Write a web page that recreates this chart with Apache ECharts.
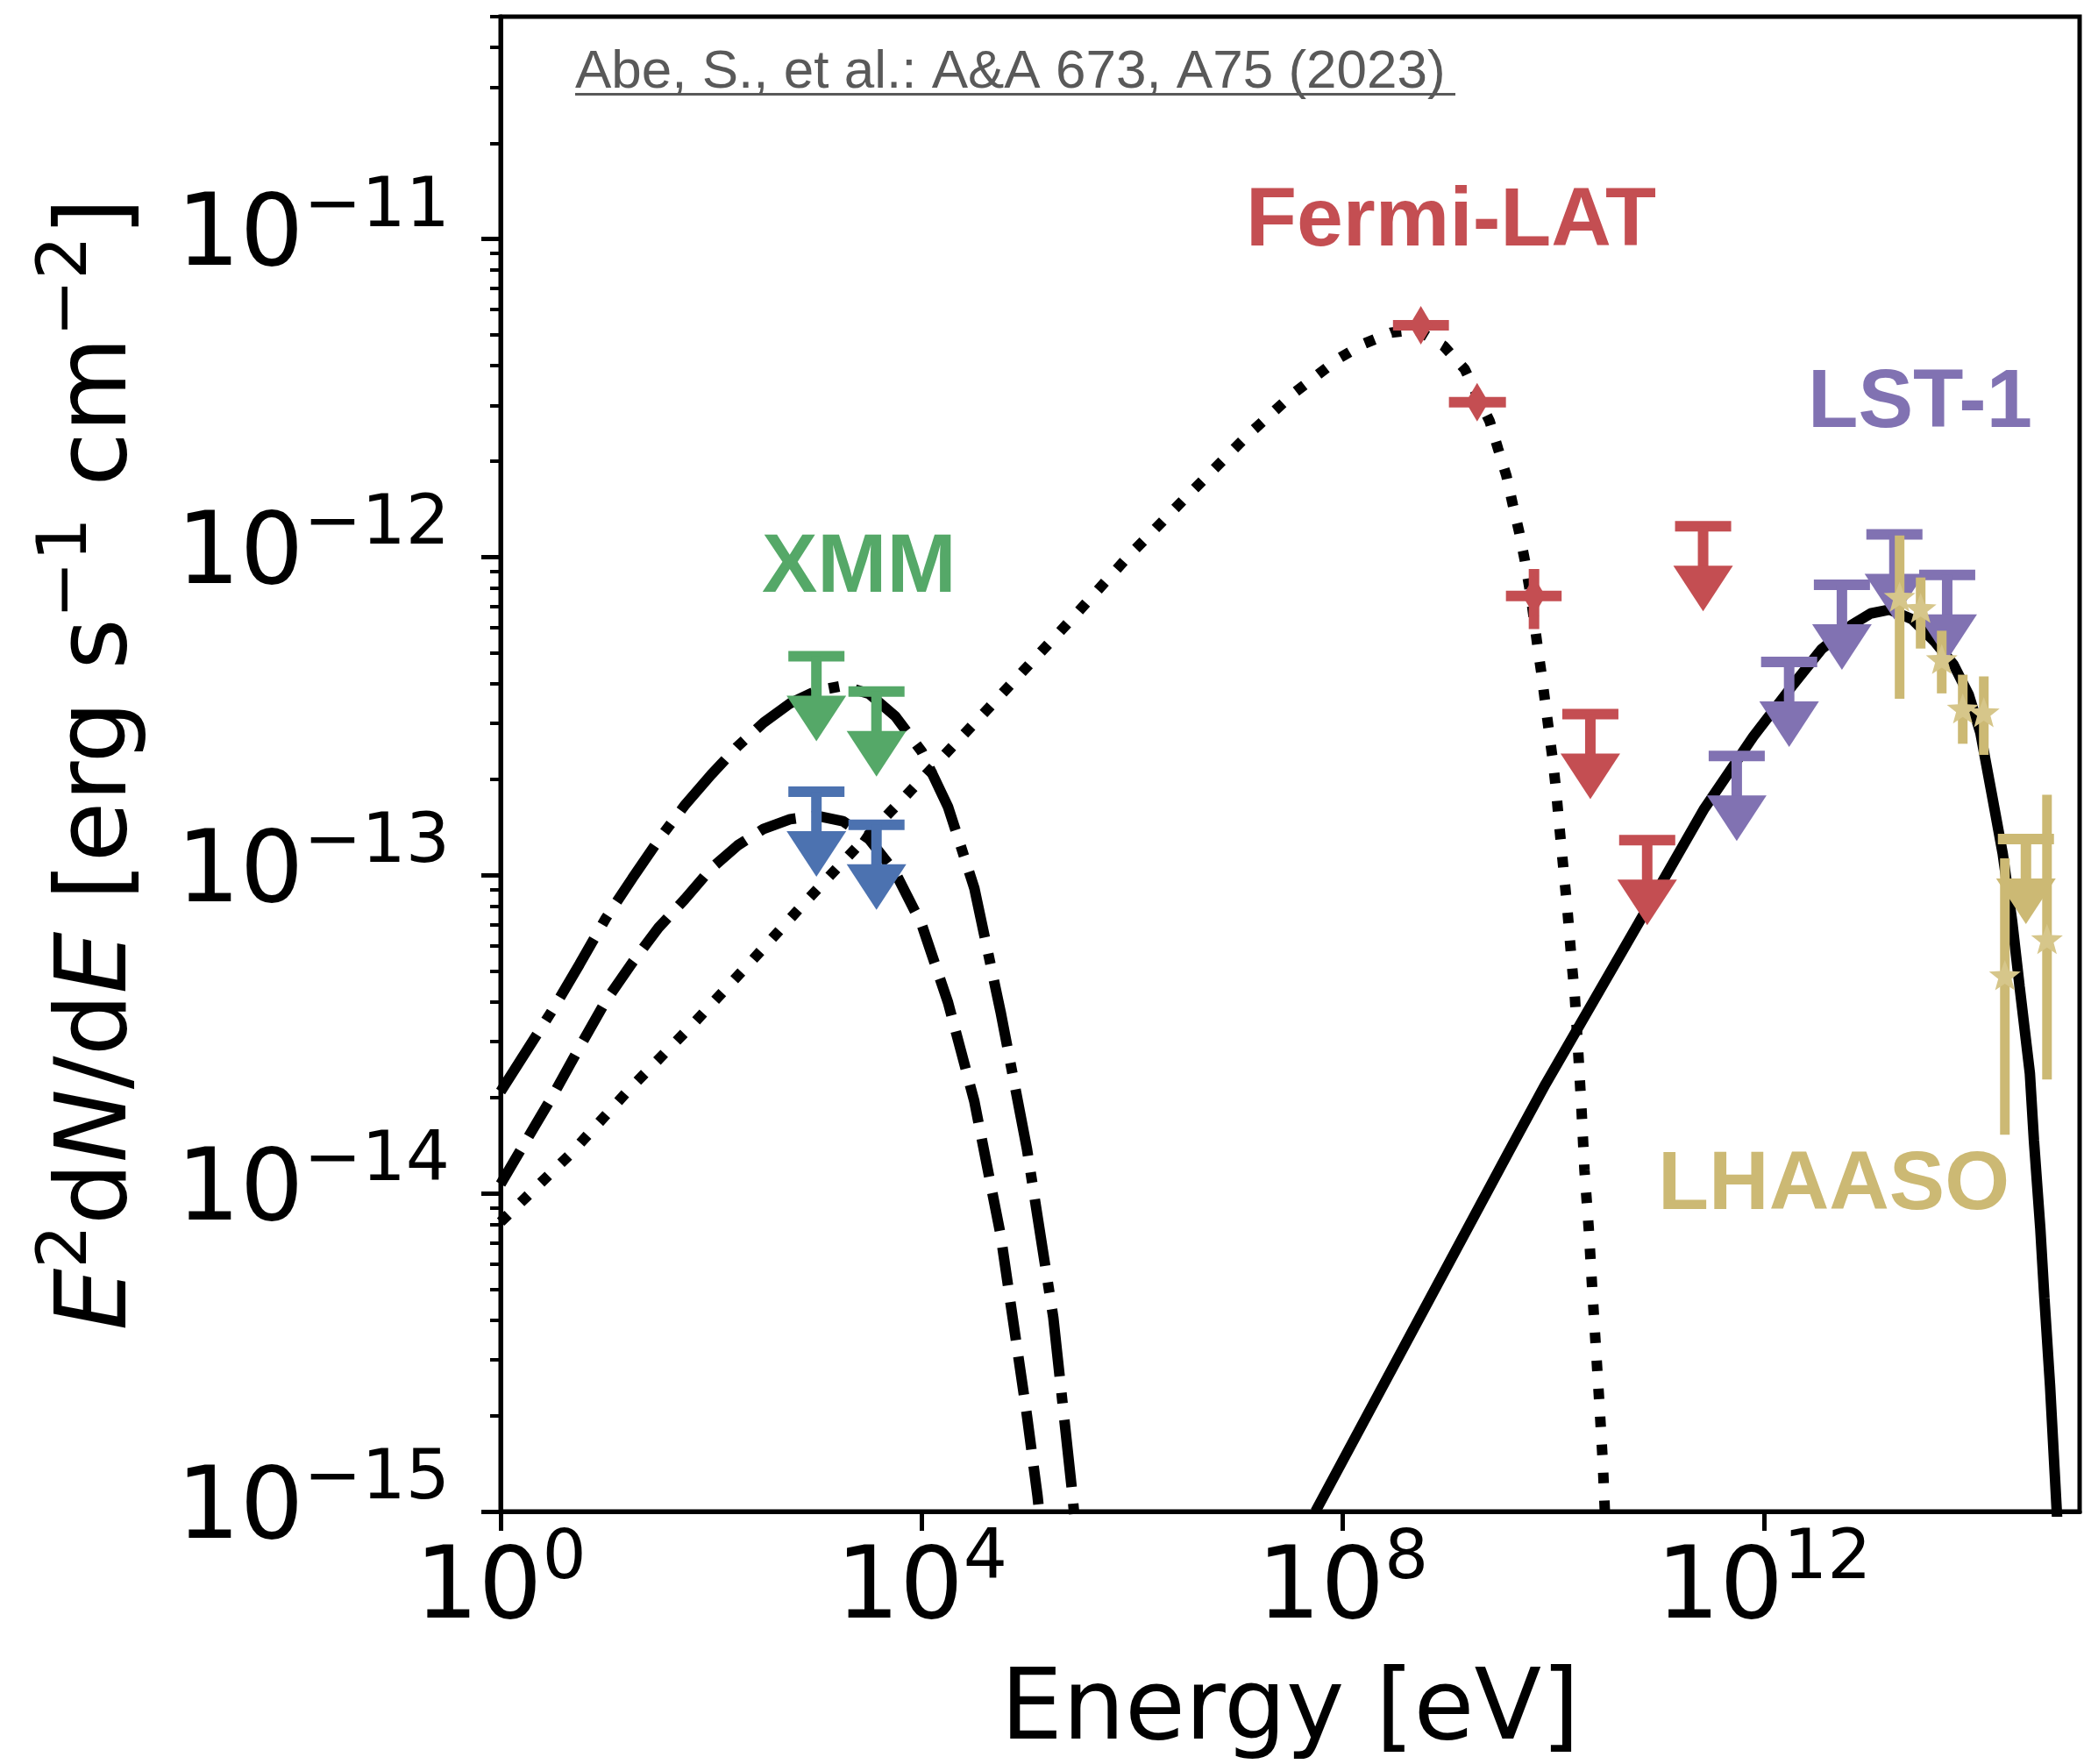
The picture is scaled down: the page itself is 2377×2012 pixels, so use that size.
<!DOCTYPE html>
<html>
<head>
<meta charset="utf-8">
<script src="https://cdn.jsdelivr.net/npm/echarts@6/dist/echarts.min.js"></script>
<style>
  html, body { margin: 0; padding: 0; background: #fff; }
  #sed { width: 2377px; height: 2012px; }
</style>
</head>
<body>
<div id="sed"></div>
<script>
// model curves (E in eV, E^2 dN/dE in erg s^-1 cm^-2)
const syncHighE = [1, 1.78, 3.16, 5.62, 10, 17.8, 31.6, 56.2, 100, 178, 316, 562, 1e3, 1.78e3, 3.16e3, 5.62e3, 1e4, 1.78e4, 3.16e4, 5.62e4, 1e5, 1.78e5, 2.69e5, 2.88e5]
const syncHighF = [2.09e-14, 2.82e-14, 3.80e-14, 5.25e-14, 7.33e-14, 9.77e-14, 1.29e-13, 1.66e-13, 2.07e-13, 2.54e-13, 3.02e-13, 3.47e-13, 3.80e-13, 3.94e-13, 3.72e-13, 3.16e-13, 2.45e-13, 1.64e-13, 9.12e-14, 3.72e-14, 1.38e-14, 4.07e-15, 1.15e-15, 9.0e-16]

const syncLowE = [1, 1.78, 3.16, 5.62, 10, 17.8, 31.6, 56.2, 100, 178, 316, 562, 1e3, 1.78e3, 3.16e3, 5.62e3, 1e4, 1.78e4, 3.16e4, 5.62e4, 1e5, 1.26e5, 1.35e5]
const syncLowF = [1.07e-14, 1.48e-14, 2.04e-14, 2.88e-14, 4.03e-14, 5.31e-14, 6.84e-14, 8.41e-14, 1.05e-13, 1.24e-13, 1.40e-13, 1.50e-13, 1.54e-13, 1.48e-13, 1.30e-13, 1.02e-13, 7.00e-14, 3.98e-14, 1.95e-14, 7.41e-15, 2.00e-15, 1.12e-15, 9.0e-16]

const icE = [1, 4.61, 16.6, 65.3, 234, 847, 3.05e3, 1.19e4, 4.31e4, 2.49e5, 9.04e5, 3.42e6, 1.29e7, 3.53e7, 9.23e7, 1.60e8, 2.90e8, 5.01e8, 9.10e8, 1.44e9, 2.49e9, 2.99e9, 3.59e9, 4.13e9, 4.74e9, 5.37e9, 6.17e9, 7.08e9, 7.78e9, 8.47e9, 9.18e9, 9.98e9, 1.07e10, 1.13e10, 1.20e10, 1.28e10, 1.36e10, 1.43e10, 1.51e10, 1.60e10, 1.73e10, 1.86e10, 1.98e10, 2.17e10, 2.34e10, 2.53e10, 2.74e10, 2.95e10, 3.09e10, 3.2e10]
const icF = [8.13e-15, 1.33e-14, 2.12e-14, 3.37e-14, 5.31e-14, 8.47e-14, 1.33e-13, 2.13e-13, 3.35e-13, 6.24e-13, 1.0e-12, 1.57e-12, 2.44e-12, 3.30e-12, 4.22e-12, 4.69e-12, 5.08e-12, 5.19e-12, 4.61e-12, 3.90e-12, 2.67e-12, 2.19e-12, 1.80e-12, 1.46e-12, 1.20e-12, 9.75e-13, 7.41e-13, 5.25e-13, 4.23e-13, 3.40e-13, 2.77e-13, 2.25e-13, 1.81e-13, 1.48e-13, 1.20e-13, 9.64e-14, 7.85e-14, 6.40e-14, 5.14e-14, 4.19e-14, 2.74e-14, 1.80e-14, 1.18e-14, 7.78e-15, 5.06e-15, 3.33e-15, 2.19e-15, 1.44e-15, 1.0e-15, 8.5e-16]

const hadE = [5.50e7, 3.77e9, 8.47e9, 6.40e10, 2.72e11, 7.94e11, 1.82e12, 3.52e12, 6.82e12, 1.03e13, 1.56e13, 2.56e13, 4.21e13, 6.35e13, 8.85e13, 1.14e14, 1.46e14, 1.86e14, 2.29e14, 2.69e14, 3.37e14, 3.68e14, 4.23e14, 4.63e14, 5.24e14, 6.05e14, 6.17e14]
const hadF = [1.0e-15, 1.35e-14, 2.21e-14, 7.03e-14, 1.62e-13, 2.73e-13, 3.90e-13, 5.13e-13, 6.12e-13, 6.65e-13, 6.84e-13, 6.38e-13, 5.42e-13, 4.59e-13, 3.69e-13, 2.81e-13, 1.81e-13, 1.17e-13, 7.13e-14, 4.47e-14, 2.38e-14, 1.47e-14, 7.78e-15, 4.68e-15, 2.48e-15, 1.02e-15, 9.0e-16]

// XMM upper limits (two models)
const xmmE = [1.0e3, 3.72e3]
const xmmHighUL = [4.88e-13, 3.78e-13]
const xmmLowUL = [1.83e-13, 1.44e-13]

// Fermi-LAT
const fermiE = [5.52e8, 1.89e9, 6.56e9]
const fermiELo = [3.0e8, 1.02e9, 3.55e9]
const fermiEHi = [1.02e9, 3.55e9, 1.20e10]
const fermiF = [5.36e-12, 3.07e-12, 7.55e-13]
const fermiFLo = [5.36e-12, 3.07e-12, 5.94e-13]
const fermiFHi = [5.36e-12, 3.07e-12, 9.18e-13]
const fermiUlE = [2.25e10, 7.80e10, 2.65e11]
const fermiUlF = [3.21e-13, 1.29e-13, 1.25e-12]

// LST-1 upper limits
const lstE = [5.53e11, 1.74e12, 5.52e12, 1.74e13, 5.52e13]
const lstUlF = [2.37e-13, 4.68e-13, 8.18e-13, 1.18e-12, 8.79e-13]

// LHAASO
const lhaasoE = [1.95e13, 3.09e13, 4.90e13, 7.76e13, 1.23e14, 1.95e14, 4.90e14]
const lhaasoF = [7.52e-13, 6.93e-13, 4.79e-13, 3.35e-13, 3.26e-13, 4.86e-14, 6.31e-14]
const lhaasoFLo = [3.59e-13, 5.16e-13, 3.73e-13, 2.59e-13, 2.39e-13, 1.53e-14, 2.28e-14]
const lhaasoFHi = [1.17e-12, 8.63e-13, 5.87e-13, 4.27e-13, 4.22e-13, 1.13e-13, 1.79e-13]
const lhaasoUlE = [3.09e14]
const lhaasoUlF = [1.30e-13]

const xTicks = [1, 1e4, 1e8, 1e12]
const yTicks = [1e-15, 1e-14, 1e-13, 1e-12, 1e-11]
const yMinorTicks = [
  2e-15, 3e-15, 4e-15, 5e-15, 6e-15, 7e-15, 8e-15, 9e-15,
  2e-14, 3e-14, 4e-14, 5e-14, 6e-14, 7e-14, 8e-14, 9e-14,
  2e-13, 3e-13, 4e-13, 5e-13, 6e-13, 7e-13, 8e-13, 9e-13,
  2e-12, 3e-12, 4e-12, 5e-12, 6e-12, 7e-12, 8e-12, 9e-12,
  2e-11, 3e-11, 4e-11, 5e-11
]

const GREEN = '#55A868'
const BLUE = '#4C72B0'
const RED = '#C44E52'
const PURPLE = '#8172B2'
const TAN = '#CCB974'

const pairs = (xs, ys) => xs.map((x, i) => [x, ys[i]])

const tickRich = {
  b: { fontFamily: 'DejaVu Sans', fontSize: 114, lineHeight: 150, color: '#000' },
  s: { fontFamily: 'DejaVu Sans', fontSize: 79, lineHeight: 88, verticalAlign: 'top', color: '#000' }
}

// upper limit: cap at the value, stem, then a downward triangle
const ulRenderer = (color) => (params, api) => {
  const p = api.coord([api.value(0), api.value(1)])
  return {
    type: 'group',
    children: [
      { type: 'rect', shape: { x: p[0] - 32, y: p[1] - 6, width: 64, height: 12 }, style: { fill: color } },
      { type: 'rect', shape: { x: p[0] - 6, y: p[1], width: 12, height: 47 }, style: { fill: color } },
      { type: 'polygon', shape: { points: [[p[0] - 34, p[1] + 45], [p[0] + 34, p[1] + 45], [p[0], p[1] + 97]] }, style: { fill: color } }
    ]
  }
}

const fermiRenderer = (params, api) => {
  const c = api.coord([api.value(0), api.value(1)])
  const lo = api.coord([api.value(2), api.value(1)])
  const hi = api.coord([api.value(3), api.value(1)])
  const ylo = api.coord([api.value(0), api.value(4)])
  const yhi = api.coord([api.value(0), api.value(5)])
  return {
    type: 'group',
    children: [
      { type: 'rect', shape: { x: lo[0], y: c[1] - 6, width: hi[0] - lo[0], height: 12 }, style: { fill: RED } },
      { type: 'rect', shape: { x: c[0] - 6, y: yhi[1], width: 12, height: ylo[1] - yhi[1] }, style: { fill: RED } },
      { type: 'polygon', shape: { points: [[c[0], c[1] - 22], [c[0] + 13, c[1]], [c[0], c[1] + 22], [c[0] - 13, c[1]]] }, style: { fill: RED } }
    ]
  }
}

const starPoints = (cx, cy, r) => {
  const pts = []
  for (let k = 0; k < 10; k++) {
    const a = -Math.PI / 2 + k * Math.PI / 5
    const rr = k % 2 === 0 ? r : r * 0.42
    pts.push([cx + rr * Math.cos(a), cy + rr * Math.sin(a)])
  }
  return pts
}

const lhaasoRenderer = (params, api) => {
  const c = api.coord([api.value(0), api.value(1)])
  const ylo = api.coord([api.value(0), api.value(2)])
  const yhi = api.coord([api.value(0), api.value(3)])
  return {
    type: 'group',
    children: [
      { type: 'rect', shape: { x: c[0] - 5.5, y: yhi[1], width: 11, height: ylo[1] - yhi[1] }, style: { fill: TAN } },
      { type: 'polygon', shape: { points: starPoints(c[0], c[1] + 2, 19) }, style: { fill: '#D6C68A' } }
    ]
  }
}

const chart = echarts.init(document.getElementById('sed'))

const option = {
  animation: false,
  backgroundColor: '#fff',
  grid: {
    left: 571, top: 19, width: 1801, height: 1705,
    show: true, borderColor: '#000', borderWidth: 5,
    containLabel: false, outerBoundsMode: 'none'
  },
  xAxis: {
    type: 'log', logBase: 10, min: 1, max: 1e15,
    axisLine: { lineStyle: { color: '#000', width: 5 } },
    axisTick: { customValues: xTicks, length: 22, lineStyle: { color: '#000', width: 5 } },
    axisLabel: {
      customValues: xTicks, margin: 16, rich: tickRich,
      formatter: (v) => '{b|10}{s|' + Math.round(Math.log10(v)) + '}'
    },
    splitLine: { show: false },
    name: 'Energy [eV]', nameLocation: 'middle', nameGap: 174,
    nameTextStyle: { fontFamily: 'DejaVu Sans', fontSize: 112, lineHeight: 112, color: '#000' }
  },
  yAxis: [
    {
      type: 'log', logBase: 10, min: 1e-15, max: 5e-11, position: 'left',
      axisLine: { lineStyle: { color: '#000', width: 5 } },
      axisTick: { customValues: yTicks, length: 22, lineStyle: { color: '#000', width: 5 } },
      axisLabel: {
        customValues: yTicks, margin: 58, rich: tickRich,
        formatter: (v) => '{b|10}{s|\u2212' + Math.abs(Math.round(Math.log10(v))) + '}'
      },
      splitLine: { show: false },
      name: '{i|E}{s|2}{n|d}{i|N}{n|/d}{i|E}{n| [erg s}{s|\u22121}{n| cm}{s|\u22122}{n|]}',
      nameLocation: 'middle', nameRotate: 90, nameGap: 382,
      nameTextStyle: {
        rich: {
          n: { fontFamily: 'DejaVu Sans', fontSize: 112, lineHeight: 150, color: '#000' },
          i: { fontFamily: 'DejaVu Sans', fontStyle: 'italic', fontSize: 112, lineHeight: 150, color: '#000' },
          s: { fontFamily: 'DejaVu Sans', fontSize: 78, lineHeight: 88, verticalAlign: 'top', color: '#000' }
        }
      }
    },
    {
      // minor ticks at 2..9 x 10^n
      type: 'log', logBase: 10, min: 1e-15, max: 5e-11, position: 'left',
      axisLine: { show: false },
      axisTick: { customValues: yMinorTicks, length: 12, lineStyle: { color: '#000', width: 4 } },
      axisLabel: { show: false },
      splitLine: { show: false }
    }
  ],
  graphic: [
    { type: 'text', left: 656, top: 52, style: { text: 'Abe, S., et al.: A&A 673, A75 (2023)', font: '62px "Liberation Sans", Arial, sans-serif', fill: '#595959' } },
    { type: 'rect', shape: { x: 656, y: 106, width: 1004, height: 3 }, style: { fill: '#595959' } },
    { type: 'text', left: 1421, top: 206, style: { text: 'Fermi-LAT', font: 'bold 95px "Liberation Sans", Arial, sans-serif', fill: RED } },
    { type: 'text', left: 869, top: 601, style: { text: 'XMM', font: 'bold 95px "Liberation Sans", Arial, sans-serif', fill: GREEN } },
    { type: 'text', left: 2062, top: 414, style: { text: 'LST-1', font: 'bold 94px "Liberation Sans", Arial, sans-serif', fill: PURPLE } },
    { type: 'text', left: 1891, top: 1305, style: { text: 'LHAASO', font: 'bold 95px "Liberation Sans", Arial, sans-serif', fill: TAN } }
  ],
  series: [
    { type: 'line', data: pairs(syncHighE, syncHighF), symbol: 'none', z: 2, lineStyle: { color: '#000', width: 12, type: [77, 19, 12, 19] } },
    { type: 'line', data: pairs(syncLowE, syncLowF), symbol: 'none', z: 2, lineStyle: { color: '#000', width: 12, type: [44, 19] } },
    { type: 'line', data: pairs(icE, icF), symbol: 'none', z: 2, lineStyle: { color: '#000', width: 12, type: [12, 20] } },
    { type: 'line', data: pairs(hadE, hadF), symbol: 'none', z: 2, lineStyle: { color: '#000', width: 12 } },
    { type: 'custom', data: pairs(xmmE, xmmHighUL), encode: { x: 0, y: 1 }, renderItem: ulRenderer(GREEN), z: 3 },
    { type: 'custom', data: pairs(xmmE, xmmLowUL), encode: { x: 0, y: 1 }, renderItem: ulRenderer(BLUE), z: 3 },
    {
      type: 'custom', encode: { x: 0, y: 1 }, renderItem: fermiRenderer, z: 3,
      data: fermiE.map((e, i) => [e, fermiF[i], fermiELo[i], fermiEHi[i], fermiFLo[i], fermiFHi[i]])
    },
    { type: 'custom', data: pairs(fermiUlE, fermiUlF), encode: { x: 0, y: 1 }, renderItem: ulRenderer(RED), z: 3 },
    { type: 'custom', data: pairs(lstE, lstUlF), encode: { x: 0, y: 1 }, renderItem: ulRenderer(PURPLE), z: 3 },
    { type: 'custom', data: pairs(lhaasoUlE, lhaasoUlF), encode: { x: 0, y: 1 }, renderItem: ulRenderer(TAN), z: 4 },
    {
      type: 'custom', encode: { x: 0, y: 1 }, renderItem: lhaasoRenderer, z: 4,
      data: lhaasoE.map((e, i) => [e, lhaasoF[i], lhaasoFLo[i], lhaasoFHi[i]])
    }
  ]
}

chart.setOption(option)
</script>
</body>
</html>
